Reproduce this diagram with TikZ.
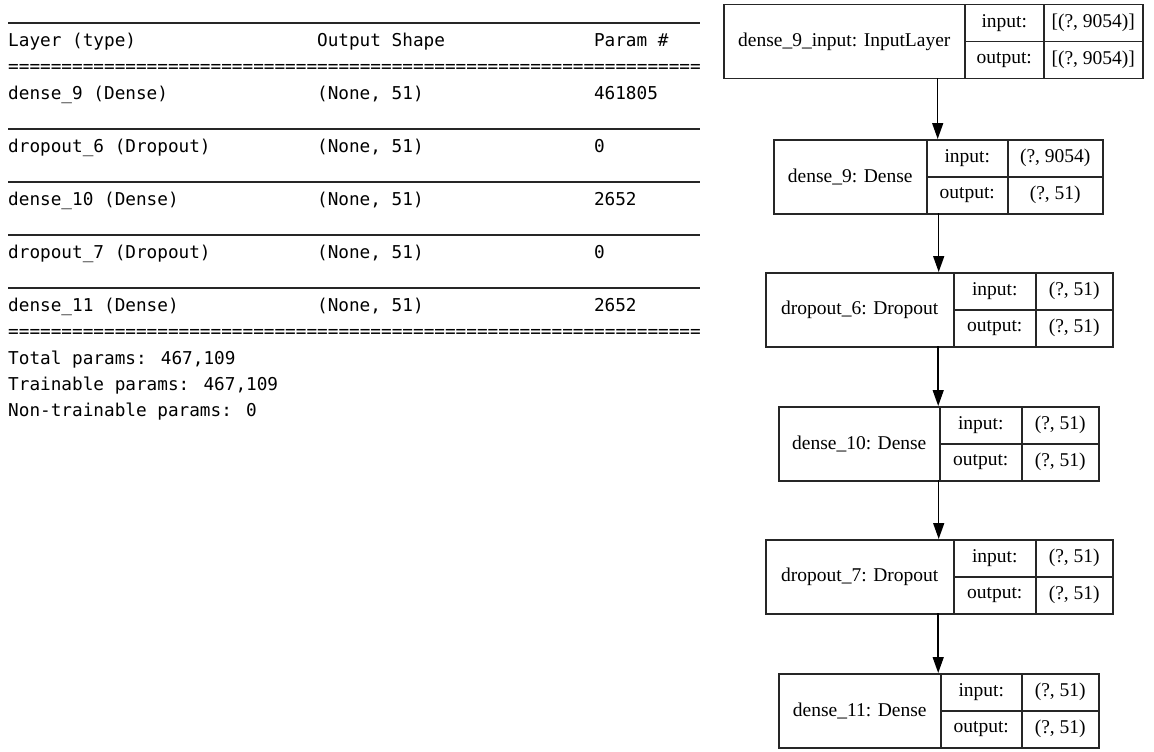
\documentclass[tikz,border=0pt]{standalone}
\usepackage{fontspec}
\usetikzlibrary{arrows.meta}
\newfontfamily\monofont{DejaVu Sans Mono}
\newfontfamily\graphfont{Liberation Serif}

% a row of 65 equals signs, as printed by the model summary
\def\tenEq{==========}
\newcommand\eqrow{\tenEq\tenEq\tenEq\tenEq\tenEq\tenEq=====}

% one layer record: id, left, top, first divider, second divider, right, label, input, output
\newcommand\kerasbox[9]{%
  \node[anchor=north west, minimum width={#6-#2}, minimum height=74, inner sep=0pt] (#1) at (#2,-#3) {};
  \node[cell, anchor=north west, minimum width={#4-#2}, minimum height=74] (#1-name) at (#2,-#3) {#7};
  \node[cell, anchor=north west, minimum width={#5-#4}, minimum height=37] (#1-inkey) at (#4,-#3) {input:};
  \node[cell, anchor=north west, minimum width={#6-#5}, minimum height=37] (#1-inval) at (#5,-#3) {#8};
  \node[cell, anchor=north west, minimum width={#5-#4}, minimum height=37] (#1-outkey) at (#4,-#3-37) {output:};
  \node[cell, anchor=north west, minimum width={#6-#5}, minimum height=37] (#1-outval) at (#5,-#3-37) {#9};
}

\begin{document}
\begin{tikzpicture}[x=1pt,y=1pt,
  summary/.style={anchor=base west, inner sep=0pt, font=\monofont\fontsize{17.7}{20}\selectfont, text=black},
  rule/.style={line width=2.2pt, draw=black!85},
  cell/.style={draw=black!85, line width=1.5pt, inner sep=0pt, font=\graphfont\fontsize{19.5}{22}\selectfont},
  edge/.style={draw=black, line width=1.5pt, -{Triangle[length=16pt,width=11pt]}}]
\fill[white] (0,0) rectangle (1154,-752);
\useasboundingbox (0,0) rectangle (1154,-752);

% ---- text summary of the model ----
\def\colA{8}
\def\colB{316.9}
\def\colC{593.8}

\node[summary] (hLayer) at (\colA,-46.5) {Layer (type)};
\node[summary] (hShape) at (\colB,-46.5) {Output Shape};
\node[summary] (hParam) at (\colC,-46.5) {Param \#};
\coordinate (r0a) at (8,-23);      \coordinate (r0b) at (700,-23);
\draw[rule] (r0a) -- (r0b);
\node[summary] (eq1) at (\colA,-73) {\eqrow};

\node[summary] (l1) at (\colA,-99.4) {dense\_9 (Dense)};
\node[summary] (s1) at (\colB,-99.4) {(None, 51)};
\node[summary] (p1) at (\colC,-99.4) {461805};
\coordinate (r1a) at (8,-129);     \coordinate (r1b) at (700,-129);
\draw[rule] (r1a) -- (r1b);

\node[summary] (l2) at (\colA,-152.3) {dropout\_6 (Dropout)};
\node[summary] (s2) at (\colB,-152.3) {(None, 51)};
\node[summary] (p2) at (\colC,-152.3) {0};
\coordinate (r2a) at (8,-182);     \coordinate (r2b) at (700,-182);
\draw[rule] (r2a) -- (r2b);

\node[summary] (l3) at (\colA,-205.3) {dense\_10 (Dense)};
\node[summary] (s3) at (\colB,-205.3) {(None, 51)};
\node[summary] (p3) at (\colC,-205.3) {2652};
\coordinate (r3a) at (8,-235);     \coordinate (r3b) at (700,-235);
\draw[rule] (r3a) -- (r3b);

\node[summary] (l4) at (\colA,-258.2) {dropout\_7 (Dropout)};
\node[summary] (s4) at (\colB,-258.2) {(None, 51)};
\node[summary] (p4) at (\colC,-258.2) {0};
\coordinate (r4a) at (8,-288);     \coordinate (r4b) at (700,-288);
\draw[rule] (r4a) -- (r4b);

\node[summary] (l5) at (\colA,-311.1) {dense\_11 (Dense)};
\node[summary] (s5) at (\colB,-311.1) {(None, 51)};
\node[summary] (p5) at (\colC,-311.1) {2652};
\node[summary] (eq2) at (\colA,-337.6) {\eqrow};

\node[summary] (tot) at (\colA,-364.0) {Total params: 467,109};
\node[summary] (trn) at (\colA,-390.5) {Trainable params: 467,109};
\node[summary] (ntr) at (\colA,-416.9) {Non-trainable params: 0};

% ---- layer graph ----
\kerasbox{in}{723}{4}{964}{1043}{1142}{dense\_9\_input: InputLayer}{[(?, 9054)]}{[(?, 9054)]}
\kerasbox{d9}{773}{139}{926}{1007}{1102}{dense\_9: Dense}{(?, 9054)}{(?, 51)}
\kerasbox{do6}{765}{272}{953}{1035}{1112}{dropout\_6: Dropout}{(?, 51)}{(?, 51)}
\kerasbox{d10}{778}{406}{939}{1021}{1098}{dense\_10: Dense}{(?, 51)}{(?, 51)}
\kerasbox{do7}{765}{539}{953}{1035}{1112}{dropout\_7: Dropout}{(?, 51)}{(?, 51)}
\kerasbox{d11}{778}{673}{940}{1021}{1098}{dense\_11: Dense}{(?, 51)}{(?, 51)}

\draw[edge] (in.south -| d9.north) -- (d9.north);
\draw[edge] (d9.south -| do6.north) -- (do6.north);
\draw[edge] (do6.south -| d10.north) -- (d10.north);
\draw[edge] (d10.south -| do7.north) -- (do7.north);
\draw[edge] (do7.south -| d11.north) -- (d11.north);
\end{tikzpicture}
\end{document}
